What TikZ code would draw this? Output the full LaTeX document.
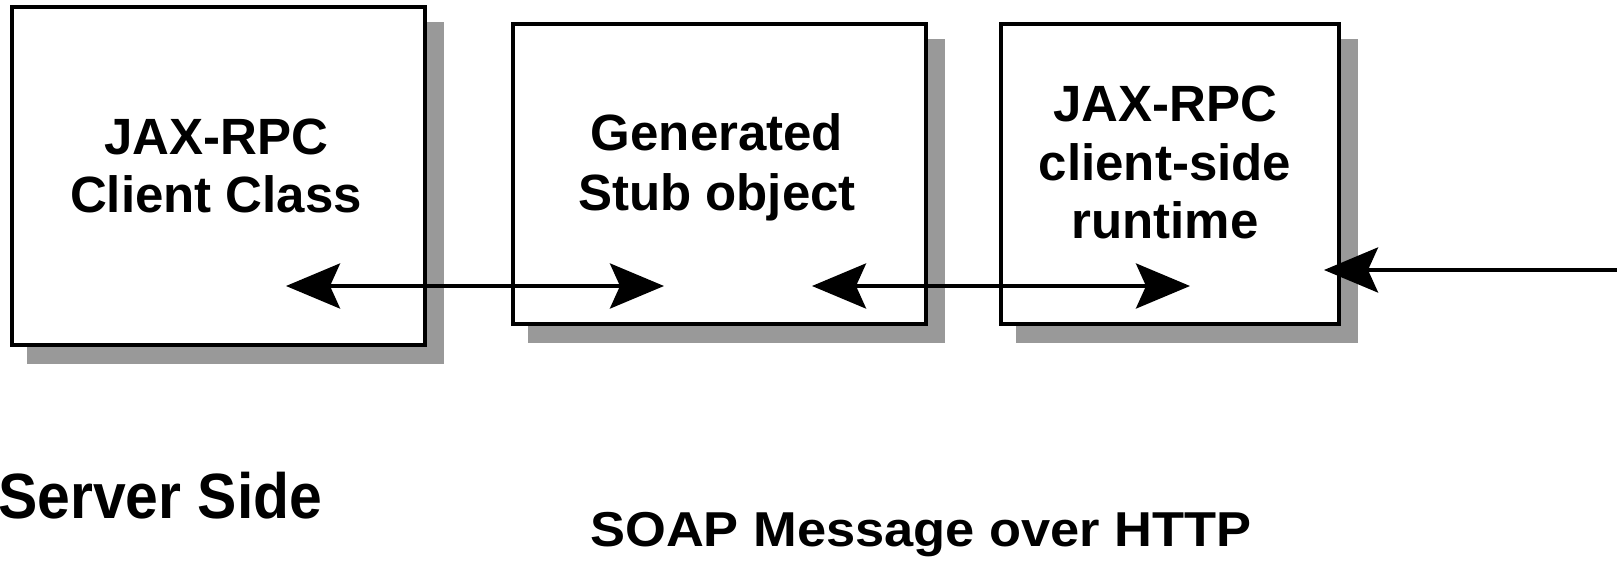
\documentclass[tikz,border=0pt]{standalone}
\usepackage{fontspec}
\setmainfont{Liberation Sans}
\usetikzlibrary{arrows.meta}
\definecolor{shadowgray}{RGB}{153,153,153}
\tikzset{
  box/.style={draw=black, fill=white, line width=4pt, inner sep=0pt,
    preaction={draw=shadowgray, fill=shadowgray,
      transform canvas={shift={(17pt,-17pt)}}}},
  lbl/.style={font=\bfseries\fontsize{51}{58}\selectfont, inner sep=0pt, anchor=base},
  caption/.style={inner sep=0pt},
  head/.tip={Stealth[length=54pt, width=45pt, inset=10pt]},
  link/.style={line width=4pt, draw=black}
}
\begin{document}
\begin{tikzpicture}[x=1pt, y=-1pt]
  \useasboundingbox (0,0) rectangle (1617,567);

  % the three components, each with a drop shadow
  \node[box, minimum width=413pt, minimum height=338pt] (client) at (218.5,176) {};
  \node[box, minimum width=413pt, minimum height=299.5pt] (stub) at (719.5,173.75) {};
  \node[box, minimum width=338pt, minimum height=299.5pt] (runtime) at (1170,173.75) {};

  % component titles
  \node[lbl] (clientA) at (216,154) {JAX-RPC};
  \node[lbl] (clientB) at (216,212) {Client Class};
  \node[lbl] (stubA) at (717,150) {Generated};
  \node[lbl] (stubB) at (717,210) {Stub object};
  \node[lbl] (rtA) at (1165,122) {JAX-RPC};
  \node[lbl] (rtB) at (1165,180) {client-side};
  \node[lbl] (rtC) at (1165,238) {runtime};

  % end points of the call arrows
  \coordinate (c1) at (286,286);
  \coordinate (s1) at (664,286);
  \coordinate (s2) at (812,286);
  \coordinate (r1) at (1190,286);
  \coordinate (r2) at (1324,270);
  \coordinate (wire) at (1617,270);

  \draw[link, head-head] (c1) -- (s1);
  \draw[link, head-head] (s2) -- (r1);
  \draw[link, -head] (wire) -- (r2);

  % captions
  \node[caption, anchor=base west, font=\bfseries\fontsize{64}{70}\selectfont, xscale=0.92]
    (server) at (-2,518) {Server Side};
  \node[caption, anchor=base, font=\bfseries\fontsize{49}{56}\selectfont, xscale=1.07]
    (soap) at (921,546) {SOAP Message over HTTP};
\end{tikzpicture}
\end{document}
